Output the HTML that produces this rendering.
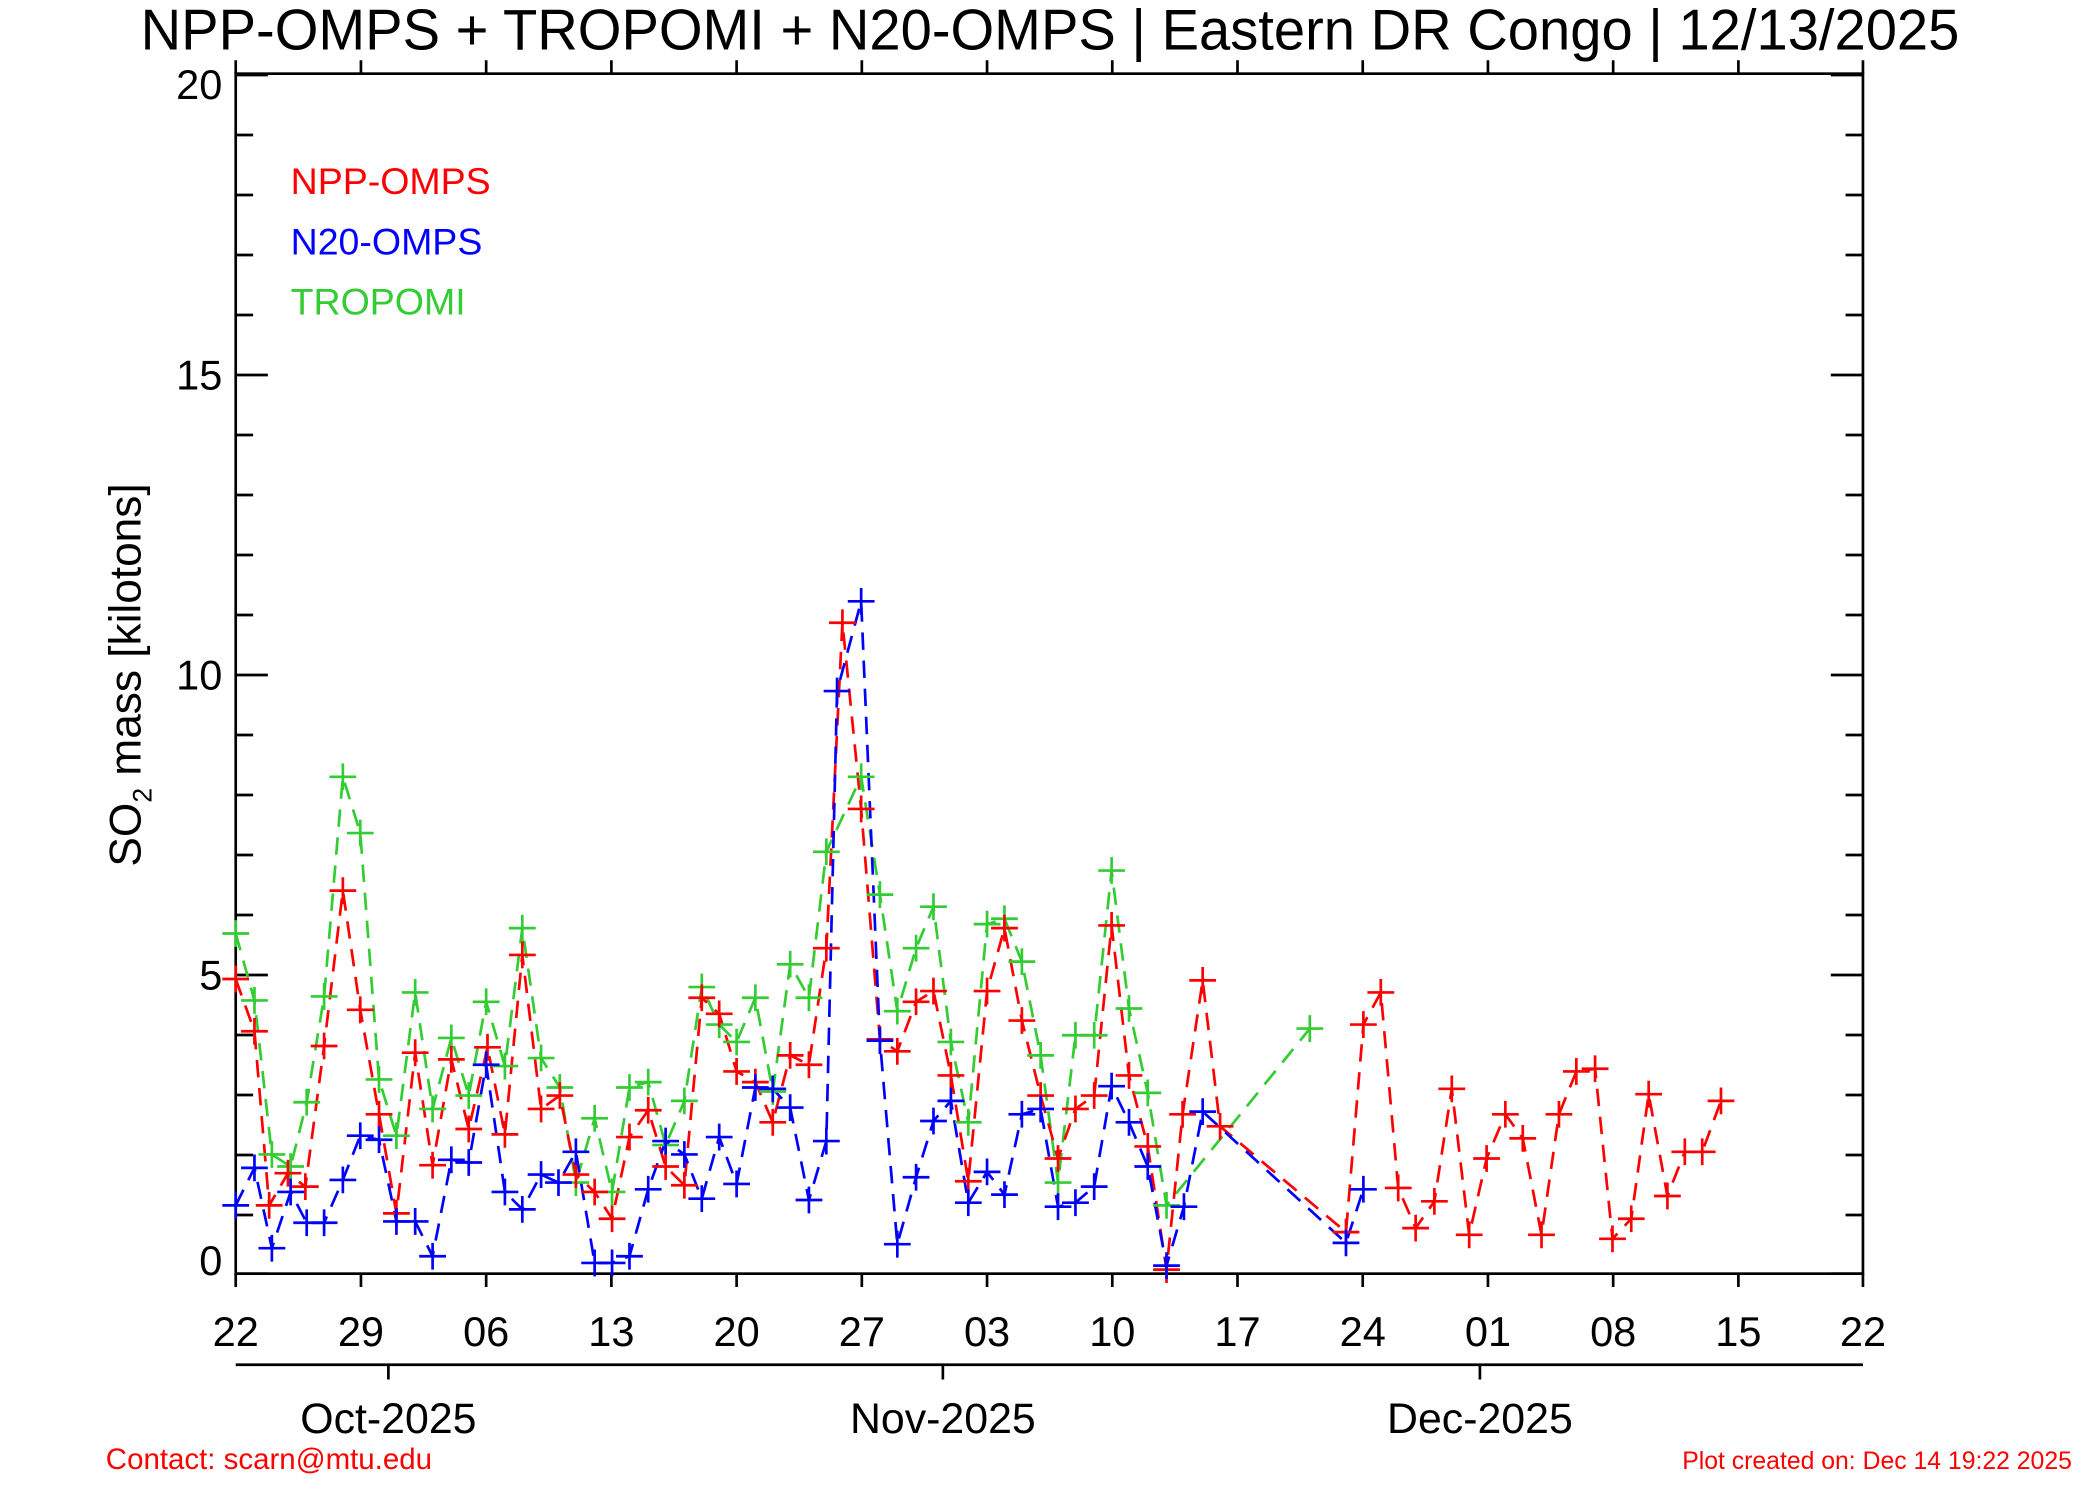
<!DOCTYPE html>
<html><head><meta charset="utf-8"><style>html,body{margin:0;padding:0;background:#fff}svg{display:block}</style></head>
<body>
<svg width="2100" height="1500" viewBox="0 0 1568 1120" preserveAspectRatio="none" xmlns="http://www.w3.org/2000/svg" font-family="Liberation Sans, Arial, sans-serif">
<defs>
<path id="pr" d="M-10 0H10M0 -10V10" stroke="#ff0000" stroke-width="2" fill="none"/>
<path id="pb" d="M-10 0H10M0 -10V10" stroke="#0000ff" stroke-width="2" fill="none"/>
<path id="pg" d="M-10 0H10M0 -10V10" stroke="#33cc33" stroke-width="2" fill="none"/>
</defs>
<rect width="1568" height="1120" fill="#fff"/>
<text x="784" y="37" font-size="43" text-anchor="middle" textLength="1358" lengthAdjust="spacingAndGlyphs">NPP-OMPS + TROPOMI + N20-OMPS | Eastern DR Congo | 12/13/2025</text>
<rect x="176" y="55" width="1215" height="896" fill="none" stroke="#000" stroke-width="2"/>
<g stroke="#000" stroke-width="2">
<path d="M176 100.8h13M176 145.6h13M176 190.4h13M176 235.2h13M176 324.8h13M176 369.6h13M176 414.4h13M176 459.2h13M176 548.8h13M176 593.6h13M176 638.4h13M176 683.2h13M176 772.8h13M176 817.6h13M176 862.4h13M176 907.2h13"/>
<path d="M1391 100.8h-13M1391 145.6h-13M1391 190.4h-13M1391 235.2h-13M1391 324.8h-13M1391 369.6h-13M1391 414.4h-13M1391 459.2h-13M1391 548.8h-13M1391 593.6h-13M1391 638.4h-13M1391 683.2h-13M1391 772.8h-13M1391 817.6h-13M1391 862.4h-13M1391 907.2h-13"/>
<path d="M176 280h24M176 504h24M176 728h24M176 951h24M176 56h24M1391 280h-24M1391 504h-24M1391 728h-24M1391 951h-24M1391 56h-24"/>
<path d="M176 951v10M269.5 951v10M363 951v10M456.5 951v10M550 951v10M643.5 951v10M737 951v10M830.5 951v10M924 951v10M1017.5 951v10M1111 951v10M1204.5 951v10M1298 951v10M1391 951v10"/>
<path d="M176 55v-10M269.5 55v-10M363 55v-10M456.5 55v-10M550 55v-10M643.5 55v-10M737 55v-10M830.5 55v-10M924 55v-10M1017.5 55v-10M1111 55v-10M1204.5 55v-10M1298 55v-10M1391 55v-10"/>
<path d="M176 1019H1391M290 1019v11M704 1019v11M1105 1019v11"/>
</g>
<g font-size="31" text-anchor="end">
<text x="166" y="74">20</text><text x="166" y="291">15</text><text x="166" y="515">10</text><text x="166" y="739">5</text><text x="166" y="952">0</text>
</g>
<g font-size="31" text-anchor="middle">
<text x="176" y="1005">22</text><text x="269.5" y="1005">29</text><text x="363" y="1005">06</text><text x="456.5" y="1005">13</text><text x="550" y="1005">20</text><text x="643.5" y="1005">27</text><text x="737" y="1005">03</text><text x="830.5" y="1005">10</text><text x="924" y="1005">17</text><text x="1017.5" y="1005">24</text><text x="1111" y="1005">01</text><text x="1204.5" y="1005">08</text><text x="1298" y="1005">15</text><text x="1391" y="1005">22</text>
<text x="290" y="1070" font-size="32">Oct-2025</text><text x="704" y="1070" font-size="32">Nov-2025</text><text x="1105" y="1070" font-size="32">Dec-2025</text>
</g>
<text transform="translate(105,504) rotate(-90)" font-size="33" text-anchor="middle">SO<tspan font-size="20" dy="8">2</tspan><tspan dy="-8"> mass [kilotons]</tspan></text>
<g font-size="28">
<text x="217" y="145" fill="#ff0000">NPP-OMPS</text>
<text x="217" y="190" fill="#0000ff">N20-OMPS</text>
<text x="217" y="235" fill="#33cc33">TROPOMI</text>
</g>
<text x="79" y="1097" font-size="22" fill="#ff0000">Contact: scarn@mtu.edu</text>
<text x="1547" y="1097" font-size="18.5" fill="#ff0000" text-anchor="end">Plot created on: Dec 14 19:22 2025</text>

<g fill="none" stroke-width="2" stroke-dasharray="13,8">
<polyline stroke="#33cc33" points="176,697 190,747 203,862 217,871 229,823 242,744 256,580 269,622 283,806 296,848 310,741 323,828 337,775 350,818 363,748 377,796 390,693 404,790 418,812 430,883 444,835 457,890 470,812 484,808 497,855 511,822 524,737 537,765 550,778 564,745 577,815 590,720 604,745 617,636 643,580 657,668 670,755 684,708 697,677 710,778 723,838 737,690 750,686 763,718 777,788 790,883 803,773 817,773 830,650 843,753 857,816 871,900 978,768"/>
<polyline stroke="#ff0000" points="176,731 190,770 201,900 215,876 228,886 242,781 256,665 269,754 283,832 296,906 310,786 323,870 337,791 350,843 364,782 377,847 390,713 404,828 418,818 430,877 444,890 457,910 470,849 484,829 497,871 511,885 524,745 537,757 550,800 564,808 577,838 590,788 604,795 617,708 629,465 643,604 657,776 670,785 684,748 697,740 710,803 723,882 737,740 750,693 763,762 777,818 790,865 803,828 817,818 830,691 843,803 857,856 871,948 883,832 898,732 911,841 1005,920 1018,765 1031,741 1044,887 1057,917 1071,897 1084,813 1097,922 1110,865 1124,832 1137,850 1151,922 1164,832 1177,800 1191,798 1204,925 1218,910 1231,817 1245,893 1258,860 1271,860 1285,822"/>
<polyline stroke="#0000ff" points="176,900 190,872 203,932 217,890 229,913 242,913 256,881 269,848 283,851 296,912 310,912 323,938 337,866 350,868 363,795 377,890 390,903 404,877 417,883 430,860 444,943 457,943 470,938 484,888 497,852 511,862 524,895 537,849 550,884 564,812 577,813 590,827 604,896 617,852 625,516 643,449 657,777 670,929 684,879 697,837 710,822 723,898 737,875 750,892 763,832 777,828 790,901 803,898 817,886 830,811 843,838 857,871 871,945 884,901 898,830 1005,928 1018,888"/>
</g>
<g>
<use href="#pg" x="176" y="697"/><use href="#pg" x="190" y="747"/><use href="#pg" x="203" y="862"/><use href="#pg" x="217" y="871"/><use href="#pg" x="229" y="823"/><use href="#pg" x="242" y="744"/><use href="#pg" x="256" y="580"/><use href="#pg" x="269" y="622"/><use href="#pg" x="283" y="806"/><use href="#pg" x="296" y="848"/><use href="#pg" x="310" y="741"/><use href="#pg" x="323" y="828"/><use href="#pg" x="337" y="775"/><use href="#pg" x="350" y="818"/><use href="#pg" x="363" y="748"/><use href="#pg" x="377" y="796"/><use href="#pg" x="390" y="693"/><use href="#pg" x="404" y="790"/><use href="#pg" x="418" y="812"/><use href="#pg" x="430" y="883"/><use href="#pg" x="444" y="835"/><use href="#pg" x="457" y="890"/><use href="#pg" x="470" y="812"/><use href="#pg" x="484" y="808"/><use href="#pg" x="497" y="855"/><use href="#pg" x="511" y="822"/><use href="#pg" x="524" y="737"/><use href="#pg" x="537" y="765"/><use href="#pg" x="550" y="778"/><use href="#pg" x="564" y="745"/><use href="#pg" x="577" y="815"/><use href="#pg" x="590" y="720"/><use href="#pg" x="604" y="745"/><use href="#pg" x="617" y="636"/><use href="#pg" x="643" y="580"/><use href="#pg" x="657" y="668"/><use href="#pg" x="670" y="755"/><use href="#pg" x="684" y="708"/><use href="#pg" x="697" y="677"/><use href="#pg" x="710" y="778"/><use href="#pg" x="723" y="838"/><use href="#pg" x="737" y="690"/><use href="#pg" x="750" y="686"/><use href="#pg" x="763" y="718"/><use href="#pg" x="777" y="788"/><use href="#pg" x="790" y="883"/><use href="#pg" x="803" y="773"/><use href="#pg" x="817" y="773"/><use href="#pg" x="830" y="650"/><use href="#pg" x="843" y="753"/><use href="#pg" x="857" y="816"/><use href="#pg" x="871" y="900"/><use href="#pg" x="978" y="768"/>
<use href="#pr" x="176" y="731"/><use href="#pr" x="190" y="770"/><use href="#pr" x="201" y="900"/><use href="#pr" x="215" y="876"/><use href="#pr" x="228" y="886"/><use href="#pr" x="242" y="781"/><use href="#pr" x="256" y="665"/><use href="#pr" x="269" y="754"/><use href="#pr" x="283" y="832"/><use href="#pr" x="296" y="906"/><use href="#pr" x="310" y="786"/><use href="#pr" x="323" y="870"/><use href="#pr" x="337" y="791"/><use href="#pr" x="350" y="843"/><use href="#pr" x="364" y="782"/><use href="#pr" x="377" y="847"/><use href="#pr" x="390" y="713"/><use href="#pr" x="404" y="828"/><use href="#pr" x="418" y="818"/><use href="#pr" x="430" y="877"/><use href="#pr" x="444" y="890"/><use href="#pr" x="457" y="910"/><use href="#pr" x="470" y="849"/><use href="#pr" x="484" y="829"/><use href="#pr" x="497" y="871"/><use href="#pr" x="511" y="885"/><use href="#pr" x="524" y="745"/><use href="#pr" x="537" y="757"/><use href="#pr" x="550" y="800"/><use href="#pr" x="564" y="808"/><use href="#pr" x="577" y="838"/><use href="#pr" x="590" y="788"/><use href="#pr" x="604" y="795"/><use href="#pr" x="617" y="708"/><use href="#pr" x="629" y="465"/><use href="#pr" x="643" y="604"/><use href="#pr" x="657" y="776"/><use href="#pr" x="670" y="785"/><use href="#pr" x="684" y="748"/><use href="#pr" x="697" y="740"/><use href="#pr" x="710" y="803"/><use href="#pr" x="723" y="882"/><use href="#pr" x="737" y="740"/><use href="#pr" x="750" y="693"/><use href="#pr" x="763" y="762"/><use href="#pr" x="777" y="818"/><use href="#pr" x="790" y="865"/><use href="#pr" x="803" y="828"/><use href="#pr" x="817" y="818"/><use href="#pr" x="830" y="691"/><use href="#pr" x="843" y="803"/><use href="#pr" x="857" y="856"/><use href="#pr" x="871" y="948"/><use href="#pr" x="883" y="832"/><use href="#pr" x="898" y="732"/><use href="#pr" x="911" y="841"/><use href="#pr" x="1005" y="920"/><use href="#pr" x="1018" y="765"/><use href="#pr" x="1031" y="741"/><use href="#pr" x="1044" y="887"/><use href="#pr" x="1057" y="917"/><use href="#pr" x="1071" y="897"/><use href="#pr" x="1084" y="813"/><use href="#pr" x="1097" y="922"/><use href="#pr" x="1110" y="865"/><use href="#pr" x="1124" y="832"/><use href="#pr" x="1137" y="850"/><use href="#pr" x="1151" y="922"/><use href="#pr" x="1164" y="832"/><use href="#pr" x="1177" y="800"/><use href="#pr" x="1191" y="798"/><use href="#pr" x="1204" y="925"/><use href="#pr" x="1218" y="910"/><use href="#pr" x="1231" y="817"/><use href="#pr" x="1245" y="893"/><use href="#pr" x="1258" y="860"/><use href="#pr" x="1271" y="860"/><use href="#pr" x="1285" y="822"/>
<use href="#pb" x="176" y="900"/><use href="#pb" x="190" y="872"/><use href="#pb" x="203" y="932"/><use href="#pb" x="217" y="890"/><use href="#pb" x="229" y="913"/><use href="#pb" x="242" y="913"/><use href="#pb" x="256" y="881"/><use href="#pb" x="269" y="848"/><use href="#pb" x="283" y="851"/><use href="#pb" x="296" y="912"/><use href="#pb" x="310" y="912"/><use href="#pb" x="323" y="938"/><use href="#pb" x="337" y="866"/><use href="#pb" x="350" y="868"/><use href="#pb" x="363" y="795"/><use href="#pb" x="377" y="890"/><use href="#pb" x="390" y="903"/><use href="#pb" x="404" y="877"/><use href="#pb" x="417" y="883"/><use href="#pb" x="430" y="860"/><use href="#pb" x="444" y="943"/><use href="#pb" x="457" y="943"/><use href="#pb" x="470" y="938"/><use href="#pb" x="484" y="888"/><use href="#pb" x="497" y="852"/><use href="#pb" x="511" y="862"/><use href="#pb" x="524" y="895"/><use href="#pb" x="537" y="849"/><use href="#pb" x="550" y="884"/><use href="#pb" x="564" y="812"/><use href="#pb" x="577" y="813"/><use href="#pb" x="590" y="827"/><use href="#pb" x="604" y="896"/><use href="#pb" x="617" y="852"/><use href="#pb" x="625" y="516"/><use href="#pb" x="643" y="449"/><use href="#pb" x="657" y="777"/><use href="#pb" x="670" y="929"/><use href="#pb" x="684" y="879"/><use href="#pb" x="697" y="837"/><use href="#pb" x="710" y="822"/><use href="#pb" x="723" y="898"/><use href="#pb" x="737" y="875"/><use href="#pb" x="750" y="892"/><use href="#pb" x="763" y="832"/><use href="#pb" x="777" y="828"/><use href="#pb" x="790" y="901"/><use href="#pb" x="803" y="898"/><use href="#pb" x="817" y="886"/><use href="#pb" x="830" y="811"/><use href="#pb" x="843" y="838"/><use href="#pb" x="857" y="871"/><use href="#pb" x="871" y="945"/><use href="#pb" x="884" y="901"/><use href="#pb" x="898" y="830"/><use href="#pb" x="1005" y="928"/><use href="#pb" x="1018" y="888"/>
</g>
</svg>
</body></html>
